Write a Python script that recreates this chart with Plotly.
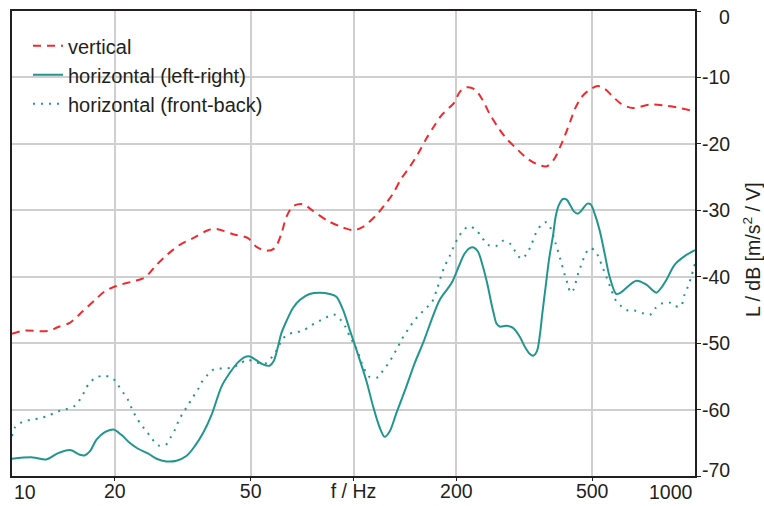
import plotly.graph_objects as go

# ---------------- data ----------------
vert_f = [10.0, 10.9, 12.1, 12.9, 13.6, 14.8, 16.1, 17.5, 18.7, 20.2, 22.6, 24.5, 26.5, 28.6,
          31.0, 33.9, 37.5, 39.7, 44.4, 49.1, 52.0, 55.6, 58.8, 61.5, 63.6, 66.5, 71.2, 76.1,
          84.2, 93.2, 99.7, 106.6, 116.7, 123.4, 130.5, 138.1, 146.0, 154.5, 163.5, 172.9,
          180.9, 191.2, 197.8, 204.6, 214.1, 226.4, 239.4, 250.4, 264.9, 280.3, 299.9, 320.8,
          343.0, 366.9, 384.7, 402.5, 416.4, 430.7, 445.4, 464.8, 487.3, 519.6, 543.8, 575.1,
          608.6, 658.0, 736.5, 805.5, 881.8, 1000.0]
vert_db = [-48.6, -48.1, -48.2, -48.1, -47.6, -46.9, -45.2, -43.5, -42.2, -41.4, -40.7, -40.1,
           -38.2, -36.6, -35.2, -34.2, -33.0, -32.8, -33.6, -34.2, -35.5, -36.1, -35.7, -33.5,
           -31.0, -29.4, -29.1, -30.1, -31.6, -32.6, -33.0, -32.5, -30.7, -29.2, -27.5, -25.2,
           -23.5, -21.5, -19.2, -17.2, -15.7, -14.5, -13.7, -12.2, -11.5, -11.8, -13.5, -15.5,
           -17.5, -19.2, -20.7, -22.1, -23.0, -23.4, -22.5, -20.5, -18.7, -16.7, -14.7, -13.0,
           -12.0, -11.3, -11.7, -12.9, -14.0, -14.6, -14.1, -14.2, -14.5, -15.1]

lr_f = [10.0, 11.5, 12.6, 13.6, 14.8, 15.8, 16.3, 16.9, 17.7, 18.7, 19.8, 20.9, 22.1, 23.4,
        25.0, 26.5, 28.3, 30.3, 32.4, 34.3, 36.3, 38.4, 41.1, 43.4, 45.9, 48.0, 49.7, 52.0,
        54.3, 56.8, 58.4, 60.1, 61.5, 63.6, 66.5, 69.6, 74.4, 79.6, 85.2, 89.1, 93.2, 97.5,
        102.0, 109.1, 114.1, 119.3, 123.4, 127.6, 133.6, 142.9, 151.1, 159.8, 178.8, 193.5,
        204.3, 211.6, 218.8, 224.8, 231.4, 239.4, 247.6, 253.3, 257.8, 262.0, 267.9, 280.3,
        293.1, 306.6, 317.1, 328.0, 335.4, 344.5, 350.9, 357.3, 365.3, 373.5, 384.7, 390.7,
        398.7, 410.5, 420.9, 430.7, 442.5, 454.2, 465.6, 483.9, 494.7, 508.3, 525.7, 543.8,
        562.3, 588.3, 605.6, 673.3, 720.3, 770.2, 792.9, 824.1, 871.5, 932.4, 1000.0]
lr_db = [-67.4, -67.2, -67.5, -66.6, -66.1, -66.8, -66.9, -66.3, -64.5, -63.4, -63.0, -63.8,
         -65.0, -65.9, -66.6, -67.4, -67.8, -67.7, -67.0, -65.5, -63.5, -60.8, -56.5, -54.5,
         -52.9, -52.1, -52.0, -52.6, -53.2, -53.4, -52.7, -50.5, -48.5, -46.7, -44.7, -43.5,
         -42.6, -42.4, -42.6, -43.0, -45.0, -48.0, -51.0, -55.7, -59.5, -62.7, -64.1, -63.3,
         -60.5, -56.5, -53.0, -50.0, -43.5, -41.0, -38.2, -36.5, -35.7, -35.6, -36.2, -38.5,
         -41.5, -44.0, -45.7, -47.0, -47.5, -47.4, -47.7, -49.0, -50.5, -51.6, -51.9, -51.2,
         -49.0, -45.5, -41.5, -37.5, -33.5, -31.0, -29.3, -28.3, -28.4, -29.2, -30.2, -30.5,
         -30.0, -29.0, -29.1, -30.5, -33.0, -36.5, -40.0, -42.6, -42.4, -40.6, -41.2, -42.4,
         -41.8, -40.5, -38.2, -36.9, -36.0]

fb_f = [10.0, 10.2, 10.7, 11.4, 12.1, 12.8, 13.6, 14.3, 15.2, 15.8, 16.3, 16.8, 17.6, 18.7,
        19.8, 20.5, 21.2, 21.9, 22.5, 23.1, 23.9, 24.8, 25.7, 26.8, 28.2, 29.2, 30.1, 30.8,
        31.7, 32.7, 33.8, 35.0, 36.0, 37.5, 39.1, 41.5, 44.1, 46.5, 48.8, 51.7, 55.0, 57.5,
        59.5, 61.2, 63.6, 67.1, 71.2, 75.3, 79.3, 83.3, 87.7, 91.7, 94.9, 97.5, 100.3, 103.1,
        105.0, 107.8, 111.5, 118.5, 122.0, 126.8, 130.5, 134.5, 138.1, 142.2, 146.8, 151.8,
        157.0, 162.4, 169.0, 175.5, 181.6, 185.8, 191.2, 196.5, 202.2, 209.2, 217.8, 229.0,
        237.8, 247.6, 260.9, 274.1, 288.6, 298.5, 310.2, 320.8, 331.8, 341.6, 354.8, 366.9,
        377.8, 390.7, 402.5, 416.4, 424.6, 432.4, 441.3, 452.4, 461.6, 469.8, 478.4, 493.8,
        511.7, 523.3, 535.4, 550.1, 566.2, 588.3, 610.7, 636.4, 665.8, 704.0, 739.7, 766.7,
        802.2, 842.7, 871.5, 907.8, 932.4, 953.3, 975.2, 1000.0]
fb_db = [-64.0, -62.7, -61.9, -61.5, -61.3, -60.9, -60.3, -60.0, -59.5, -58.5, -57.3, -56.1,
         -55.2, -54.9, -55.4, -56.4, -57.5, -58.6, -60.0, -61.1, -62.3, -63.3, -64.4, -65.4,
         -65.3, -64.1, -62.9, -61.6, -60.5, -59.4, -58.2, -57.0, -55.8, -54.7, -53.9, -53.8,
         -53.7, -53.1, -52.5, -52.9, -53.1, -52.2, -51.1, -49.9, -48.8, -48.4, -48.1, -47.3,
         -46.7, -46.1, -45.7, -46.5, -47.6, -49.0, -50.1, -51.4, -52.6, -54.0, -55.1, -55.1,
         -54.1, -53.0, -51.9, -50.7, -49.5, -48.5, -47.4, -46.4, -45.6, -44.8, -44.0, -41.9,
         -39.5, -38.2, -36.9, -35.5, -34.2, -33.1, -32.4, -33.0, -34.1, -35.2, -35.4, -34.6,
         -35.1, -36.3, -37.3, -36.6, -35.2, -33.5, -32.2, -31.8, -32.7, -35.0, -37.2, -39.9,
         -41.2, -42.4, -41.9, -39.9, -38.6, -37.5, -36.5, -35.7, -36.2, -37.2, -38.5, -40.0,
         -41.7, -43.7, -44.5, -45.1, -45.1, -45.5, -45.7, -44.7, -44.0, -43.9, -44.4, -44.5,
         -42.7, -41.5, -40.0, -38.0]

x_tickvals = [20, 50, 100, 200, 500]
x_ticktext = ["20", "50", "f / Hz", "200", "500"]
x_end_labels = [(10, "10"), (1000, "1000")]
y_tickvals = [0, -10, -20, -30, -40, -50, -60, -70]
y_ticktext = ["0", "-10", "-20", "-30", "-40", "-50", "-60", "-70"]

# ---------------- style ----------------
RED = "#ee2a2f"
TEAL = "#23958f"
TXT = "#231f20"
GRID = "#cfcfcf"
FONT = "Liberation Sans, Arial, sans-serif"
FS = 19.5
LFS = 20
SMOOTH = 0.9

fig = go.Figure()
fig.add_trace(go.Scatter(x=vert_f, y=vert_db, mode="lines", name="vertical",
                         legendgroup="a",
                         line=dict(color=RED, width=2, dash="8px,6px", shape="spline", smoothing=SMOOTH)))
fig.add_trace(go.Scatter(x=lr_f, y=lr_db, mode="lines", name="horizontal (left-right)",
                         legendgroup="b",
                         line=dict(color=TEAL, width=2, shape="spline", smoothing=SMOOTH)))
fig.add_trace(go.Scatter(x=fb_f, y=fb_db, mode="lines", name="horizontal (front-back)",
                         legendgroup="c",
                         line=dict(color=TEAL, width=2, dash="2px,6px", shape="spline", smoothing=SMOOTH)))

annotations = []
# y tick labels (right aligned, end labels pulled inside)
for v, t in zip(y_tickvals, y_ticktext):
    ys = 0
    if v == 0:
        ys = -6
    elif v == -70:
        ys = 6
    annotations.append(dict(x=1.0542, xref="paper", y=v, yref="y", text=t, showarrow=False,
                            xanchor="right", yanchor="middle", yshift=ys,
                            font=dict(family=FONT, size=FS, color=TXT)))
# end x tick labels (aligned inward)
for v, t in x_end_labels:
    annotations.append(dict(x=1 if v == 10 else 3, xref="x", y=0, yref="paper", text=t,
                            showarrow=False, xanchor="left" if v == 10 else "right",
                            yanchor="top", yshift=-3,
                            font=dict(family=FONT, size=FS, color=TXT)))
# y axis title
annotations.append(dict(x=1.0835, xref="paper", y=0.486, yref="paper",
                        text="L / dB [m/s<sup>2</sup> / V]", textangle=-90, showarrow=False,
                        xanchor="center", yanchor="middle",
                        font=dict(family=FONT, size=FS, color=TXT)))

fig.update_layout(
    width=764, height=506,
    margin=dict(l=12, r=69, t=11, b=30),
    paper_bgcolor="white", plot_bgcolor="white",
    font=dict(family=FONT, size=FS, color=TXT),
    showlegend=True,
    legend=dict(x=0.0234, y=0.967, xanchor="left", yanchor="top",
                bgcolor="rgba(0,0,0,0)", borderwidth=0,
                font=dict(family=FONT, size=LFS, color=TXT),
                tracegroupgap=5, traceorder="normal"),
    annotations=annotations,
)
fig.update_xaxes(type="log", range=[1, 3], tickvals=x_tickvals, ticktext=x_ticktext,
                 automargin=False, ticklabelstandoff=-6,
                 showgrid=True, gridcolor=GRID, gridwidth=1.5,
                 showline=True, linecolor=TXT, linewidth=1.5, mirror=True,
                 ticks="outside", ticklen=3, tickcolor=TXT, tickwidth=1,
                 tickfont=dict(family=FONT, size=FS, color=TXT), zeroline=False)
fig.update_yaxes(range=[-70, 0], side="right", tickvals=y_tickvals, showticklabels=False,
                 automargin=False,
                 showgrid=True, gridcolor=GRID, gridwidth=1.5,
                 showline=True, linecolor=TXT, linewidth=1.5, mirror=True,
                 ticks="outside", ticklen=4, tickcolor=TXT, tickwidth=1, zeroline=False)

fig.write_html("out.html")
